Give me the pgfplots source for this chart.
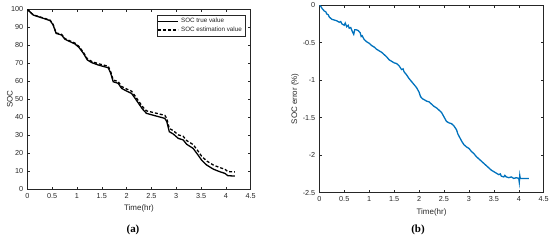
\documentclass[border=0pt]{standalone}
\usepackage{pgfplots}
\pgfplotsset{compat=1.18}
\usepackage{fontspec}
\setmainfont{Liberation Sans}
\newfontfamily\serifbf{Liberation Serif}
\definecolor{mblue}{HTML}{0072BD}
\definecolor{mgray}{HTML}{262626}
\pgfplotsset{
  matlab/.style={
    scale only axis,
    axis line style={mgray, line width=0.5bp},
    tick style={mgray, line width=0.5bp},
    tick align=inside,
    major tick length=2.5bp,
    xtick pos=both, ytick pos=both,
    ticklabel style={font=\fontsize{7.3}{8}\selectfont, text=mgray},
    label style={font=\fontsize{8}{9}\selectfont, text=mgray},
    /pgf/number format/assume math mode=true,
    xmin=0, xmax=4.5,
    xtick={0,0.5,...,4.5},
    xticklabels={0,0.5,1,1.5,2,2.5,3,3.5,4,4.5},
    xlabel={Time(hr)},
    xticklabel style={yshift=-0.5bp},
    yticklabel style={xshift=-0.5bp},
  }
}
\pgfplotstableread{
t soc
0 100
0.12 96.8
0.32 95
0.46 93.7
0.52 91.3
0.58 86.6
0.69 85.7
0.76 83.3
0.86 82
0.96 80.7
1.04 78.8
1.13 75.5
1.21 71.8
1.3 70.3
1.43 69
1.56 68
1.63 67.5
1.68 64.4
1.73 59.7
1.83 58.8
1.9 56
2.0 54.5
2.1 53.2
2.17 50.5
2.24 47.7
2.32 44.5
2.4 42.1
2.57 40.8
2.77 39.3
2.81 37.5
2.86 31.9
2.94 30.6
3.04 28.2
3.14 27.3
3.21 24.9
3.34 22.6
3.44 18.9
3.51 16.1
3.61 13.4
3.75 11
3.88 9.6
3.98 8.7
4.04 7.4
4.18 7.2
}\soctrue
\pgfplotstableread{
t soc
0 100
0.12 96.9
0.32 95.2
0.46 93.95
0.52 91.56
0.58 86.88
0.69 86.08
0.76 83.64
0.86 82.42
0.96 81.19
1.04 79.34
1.13 76.08
1.21 72.41
1.3 70.96
1.43 69.74
1.56 68.8
1.63 68.35
1.68 65.28
1.73 60.62
1.83 59.81
1.9 57.06
2.0 55.66
2.1 54.46
2.17 51.79
2.24 49.02
2.32 45.86
2.4 43.5
2.57 42.36
2.77 40.98
2.81 39.25
2.86 33.7
2.94 32.48
3.04 30.14
3.14 29.31
3.21 26.96
3.34 24.73
3.44 21.09
3.51 18.32
3.61 15.66
3.75 13.29
3.88 11.9
3.98 11.0
4.04 9.71
4.18 9.51
}\socest
\pgfplotstableread{
t e
0 0
0.03 -0.02
0.06 -0.05
0.1 -0.08
0.13 -0.09
0.15 -0.12
0.18 -0.13
0.2 -0.16
0.25 -0.19
0.3 -0.2
0.35 -0.21
0.4 -0.23
0.43 -0.22
0.45 -0.25
0.5 -0.27
0.52 -0.24
0.55 -0.29
0.58 -0.27
0.6 -0.31
0.63 -0.30
0.66 -0.35
0.69 -0.39
0.71 -0.33
0.74 -0.33
0.78 -0.34
0.82 -0.37
0.84 -0.42
0.86 -0.41
0.9 -0.46
0.95 -0.49
1.0 -0.51
1.05 -0.54
1.1 -0.56
1.15 -0.59
1.2 -0.61
1.25 -0.63
1.3 -0.66
1.35 -0.69
1.4 -0.73
1.45 -0.75
1.5 -0.77
1.55 -0.78
1.6 -0.81
1.65 -0.86
1.68 -0.85
1.7 -0.89
1.75 -0.93
1.8 -0.98
1.85 -1.02
1.9 -1.06
1.95 -1.10
2.0 -1.16
2.03 -1.22
2.07 -1.25
2.1 -1.26
2.15 -1.28
2.2 -1.29
2.25 -1.32
2.3 -1.35
2.35 -1.37
2.4 -1.40
2.45 -1.43
2.5 -1.49
2.55 -1.55
2.6 -1.57
2.65 -1.58
2.7 -1.61
2.75 -1.66
2.78 -1.72
2.82 -1.77
2.86 -1.82
2.9 -1.86
2.95 -1.89
3.0 -1.91
3.05 -1.95
3.1 -1.98
3.15 -2.02
3.2 -2.05
3.25 -2.08
3.3 -2.11
3.35 -2.14
3.4 -2.17
3.45 -2.20
3.5 -2.22
3.55 -2.24
3.6 -2.26
3.63 -2.25
3.65 -2.28
3.7 -2.29
3.72 -2.27
3.75 -2.29
3.8 -2.30
3.85 -2.29
3.9 -2.31
3.95 -2.30
4.0 -2.31
4.01 -2.36
4.02 -2.27
4.03 -2.31
4.1 -2.31
4.2 -2.31
}\socerr
\begin{document}
\begin{tikzpicture}[x=1bp,y=1bp]
\path[use as bounding box] (0,0) rectangle (550,241);
\begin{axis}[matlab,
  at={(27.3bp,52bp)}, anchor=south west,
  width=223.4bp, height=179.7bp,
  ymin=0, ymax=100, ytick={0,10,...,100},
  ylabel={SOC},
  ylabel style={at={(axis description cs:-0.078,0.5)}, anchor=center, rotate=0},
  legend style={at={(1,1)}, anchor=north east, xshift=-5.7bp, yshift=-5.7bp,
    font=\fontsize{6.3}{7}\selectfont, draw=mgray, line width=0.4bp,
    inner sep=1bp, row sep=-1.2bp, text=mgray},
  legend cell align=left,
  legend image code/.code={\draw[#1] (0bp,0bp) -- (20bp,0bp);},
]
\addplot[black, line width=1.3bp] table[x=t,y=soc] {\soctrue};
\addlegendentry{SOC true value}
\addplot[black, line width=1.3bp, dash pattern=on 3bp off 2bp] table[x=t,y=soc] {\socest};
\addlegendentry{SOC estimation value}
\end{axis}
\begin{axis}[matlab,
  at={(319.3bp,48.3bp)}, anchor=south west,
  width=224.4bp, height=187.7bp,
  ymin=-2.5, ymax=0, ytick={-2.5,-2,...,0},
  yticklabels={-2.5,-2,-1.5,-1,-0.5,0},
  ylabel={SOC error (\%)},
  ylabel style={at={(axis description cs:-0.108,0.5)}, anchor=center},
]
\addplot[mblue, line width=1.3bp] table[x=t,y=e] {\socerr};
\end{axis}
\node[font=\serifbf\bfseries\fontsize{11}{13}\selectfont] at (133,11) {(a)};
\node[font=\serifbf\bfseries\fontsize{11}{13}\selectfont] at (418,11) {(b)};
\end{tikzpicture}
\end{document}
